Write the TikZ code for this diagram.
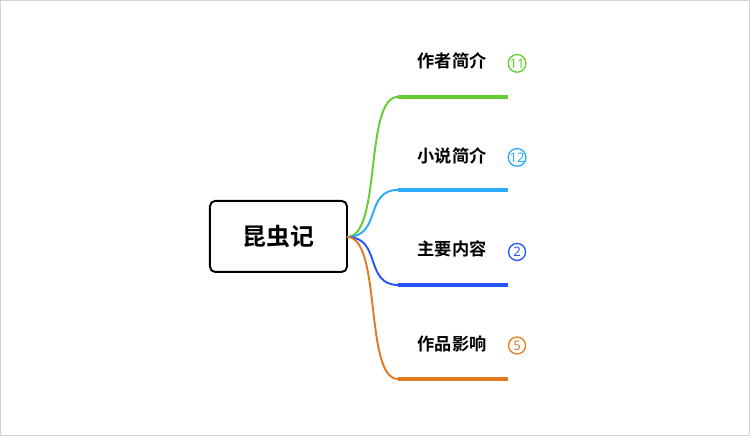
\documentclass[tikz,border=0pt]{standalone}
\usepackage{fontspec}
\newfontfamily\cjk{Noto Sans CJK SC}[BoldFont={Noto Sans CJK SC Bold}]
\setsansfont{Noto Sans}
\definecolor{zuozhe}{HTML}{66CC33}
\definecolor{xiaoshuo}{HTML}{2EAAFA}
\definecolor{neirong}{HTML}{2653FA}
\definecolor{yingxiang}{HTML}{E27A22}
\tikzset{
  topic/.style={draw=black, line width=1.1pt, rounded corners=3pt, minimum width=137*0.02cm, minimum height=71*0.02cm, font=\cjk\bfseries\fontsize{13.6}{15}\selectfont},
  label/.style={font=\cjk\bfseries\fontsize{9.8}{11}\selectfont, inner sep=0pt},
  count/.style={circle, draw, line width=0.75pt, minimum size=17*0.02cm, inner sep=0pt, font=\sffamily\fontsize{7.5}{8}\selectfont},
  bar/.style={line width=2.6pt},
  twig/.style={line width=1.1pt}
}
\begin{document}
\begin{tikzpicture}[x=0.02cm, y=-0.02cm]
    \draw[draw = lightgray!70] (0.5, 0.5) rectangle (749.5, 435.5);
    \node[topic] (root) at (278.5, 236.5) {昆虫记};
    \coordinate (hub) at (347, 237);
    % branches
    \coordinate (a1) at (398, 97);  \coordinate (a2) at (508, 97);
    \coordinate (b1) at (398, 190); \coordinate (b2) at (508, 190);
    \coordinate (c1) at (398, 285); \coordinate (c2) at (508, 285);
    \coordinate (d1) at (398, 379); \coordinate (d2) at (508, 379);
    \draw[twig, draw = zuozhe] (hub) .. controls (382, 237) and (364, 97) .. (a1);
    \draw[twig, draw = xiaoshuo] (hub) .. controls (382, 237) and (364, 190) .. (b1);
    \draw[twig, draw = neirong] (hub) .. controls (382, 237) and (364, 285) .. (c1);
    \draw[twig, draw = yingxiang] (hub) .. controls (382, 237) and (364, 379) .. (d1);
    \draw[bar, draw = zuozhe] (a1) -- (a2);
    \draw[bar, draw = xiaoshuo] (b1) -- (b2);
    \draw[bar, draw = neirong] (c1) -- (c2);
    \draw[bar, draw = yingxiang] (d1) -- (d2);
    % labels
    \node[label] (zuozhe) at (452, 61) {作者简介};
    \node[label] (xiaoshuo) at (452, 156) {小说简介};
    \node[label] (neirong) at (452, 249) {主要内容};
    \node[label] (yingxiang) at (452, 344) {作品影响};
    \node[count, draw = zuozhe, text = zuozhe] (n1) at (517, 63.5) {11};
    \node[count, draw = xiaoshuo, text = xiaoshuo] (n2) at (517, 157.5) {12};
    \node[count, draw = neirong, text = neirong] (n3) at (517, 252) {2};
    \node[count, draw = yingxiang, text = yingxiang] (n4) at (517, 345.5) {5};
\end{tikzpicture}
\end{document}
